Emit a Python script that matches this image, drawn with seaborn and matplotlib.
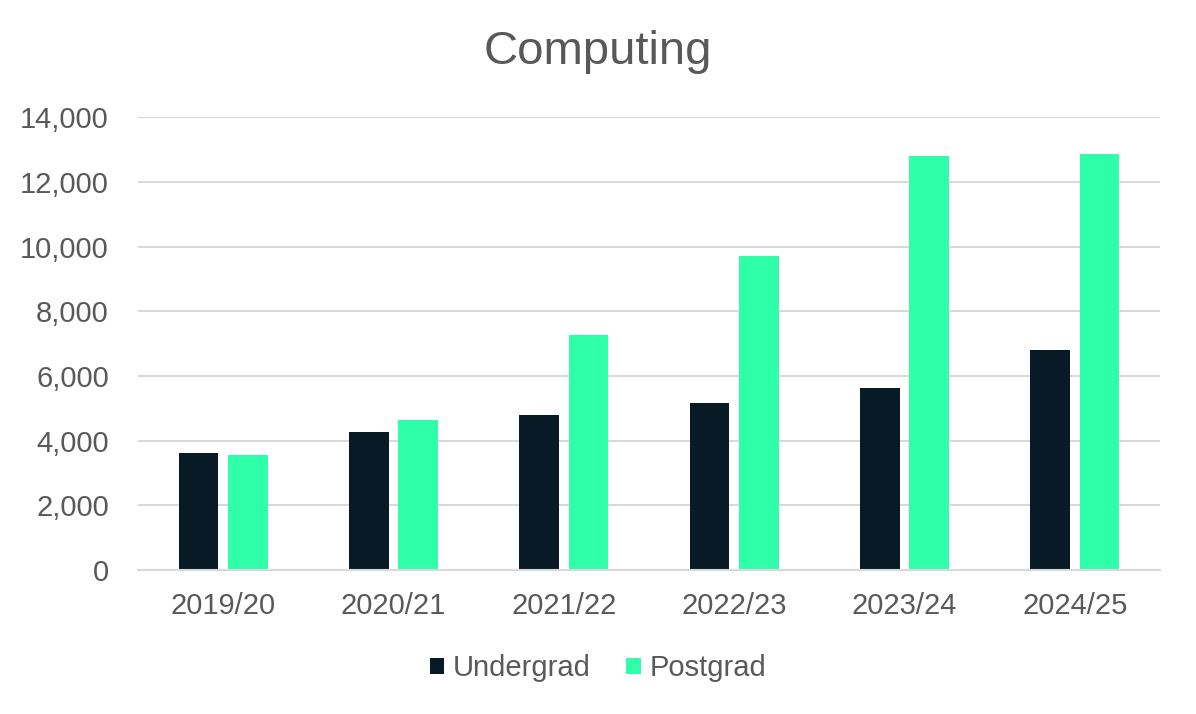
import matplotlib
matplotlib.use("Agg")
import matplotlib.pyplot as plt
import seaborn as sns
import pandas as pd
from matplotlib.ticker import FuncFormatter

years = ["2019/20", "2020/21", "2021/22", "2022/23", "2023/24", "2024/25"]
undergrad = [3630, 4270, 4800, 5175, 5640, 6805]
postgrad = [3560, 4650, 7275, 9710, 12815, 12875]
series_names = ["Undergrad", "Postgrad"]
colors = ["#071a26", "#30ffaa"]
title = "Computing"

df = pd.DataFrame({
    "year": years * 2,
    "value": undergrad + postgrad,
    "type": [series_names[0]] * len(years) + [series_names[1]] * len(years),
})

sns.set_theme(style="white")
plt.rcParams["font.family"] = ["Liberation Sans", "DejaVu Sans"]
text_color = "#595959"

fig = plt.figure(figsize=(11.96, 7.14), dpi=100)
ax = fig.add_axes([138 / 1196, 1 - 570 / 714, (1160 - 138) / 1196, (570 - 117.3) / 714])

sns.barplot(data=df, x="year", y="value", hue="type", palette=colors,
            width=0.58, gap=0.2, ax=ax, linewidth=0, saturation=1)

ax.set_ylim(0, 14000)
ax.set_yticks(range(0, 14001, 2000))
ax.yaxis.set_major_formatter(FuncFormatter(lambda v, p: f"{int(v):,}"))
ax.grid(axis="y", color="#d9d9d9", linewidth=1.5)
ax.set_axisbelow(True)
for s in ["top", "right", "left"]:
    ax.spines[s].set_visible(False)
ax.spines["bottom"].set_color("#d9d9d9")
ax.spines["bottom"].set_linewidth(1.5)
ax.set_xlabel("")
ax.set_ylabel("")
ax.tick_params(axis="y", length=0, pad=21, labelsize=21, labelcolor=text_color)
ax.tick_params(axis="x", length=0, pad=16, labelsize=21, labelcolor=text_color)

sns.move_legend(ax, "center", bbox_to_anchor=(0.5, 0.064), bbox_transform=fig.transFigure,
                ncol=2, frameon=False, title=None, fontsize=21,
                handlelength=0.5, handleheight=0.5, handletextpad=0.3,
                columnspacing=1.2, labelcolor=text_color)

fig.text(0.5, 1 - 52 / 714, title, ha="center", va="center", fontsize=34, color=text_color)

fig.savefig("out.png", dpi=100)
